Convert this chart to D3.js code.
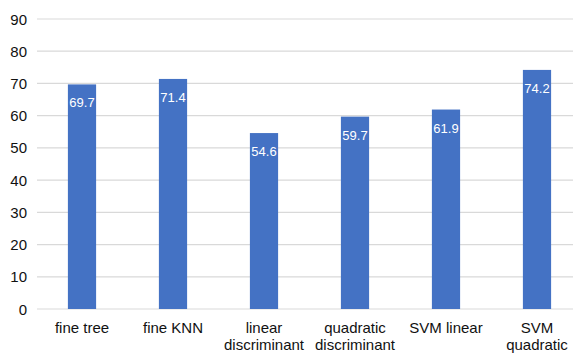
<!DOCTYPE html>
<html><head><meta charset="utf-8">
<script src="https://cdn.jsdelivr.net/npm/d3@7"></script>
<style>body{margin:0;background:#fff}svg{display:block}</style>
</head><body>
<svg id="c" width="573" height="354"></svg>
<script>
const categories = [["fine tree"],["fine KNN"],["linear","discriminant"],["quadratic","discriminant"],["SVM linear"],["SVM","quadratic"]];
const values = [69.7, 71.4, 54.6, 59.7, 61.9, 74.2];
const yTicks = [0,10,20,30,40,50,60,70,80,90];

const svg = d3.select("#c");
const font = "'Liberation Sans', Arial, Helvetica, sans-serif";
const y = d3.scaleLinear().domain([0,90]).range([309,19]);
const x = d3.scaleBand().domain(d3.range(categories.length)).range([36.5,582.5]).paddingInner(0.69).paddingOuter(0.345);

svg.append("g").selectAll("line").data(yTicks).join("line")
  .attr("x1",37).attr("x2",573).attr("y1",d=>y(d)).attr("y2",d=>y(d))
  .attr("stroke","#d9d9d9").attr("stroke-width",1.2);

svg.append("g").selectAll("text").data(yTicks).join("text")
  .attr("x",27).attr("y",d=>y(d)+5.5).attr("text-anchor","end")
  .attr("font-family",font).attr("font-size",15).attr("fill","#111").text(d=>d);

svg.append("g").selectAll("rect").data(values).join("rect")
  .attr("x",(d,i)=>x(i)).attr("width",x.bandwidth())
  .attr("y",d=>y(d)).attr("height",d=>y(0)-y(d)).attr("fill","#4472C4");

svg.append("g").selectAll("text").data(values).join("text")
  .attr("x",(d,i)=>x(i)+x.bandwidth()/2).attr("y",d=>y(d)+23).attr("text-anchor","middle")
  .attr("font-family",font).attr("font-size",13).attr("fill","#fff").text(d=>d.toFixed(1));

const xl = svg.append("g").selectAll("text").data(categories).join("text")
  .attr("text-anchor","middle").attr("font-family",font).attr("font-size",15).attr("fill","#111");
xl.each(function(d,i){
  d3.select(this).selectAll("tspan").data(d).join("tspan")
    .attr("x",x(i)+x.bandwidth()/2).attr("y",(t,j)=>333+j*17).text(t=>t);
});
</script>
</body></html>
